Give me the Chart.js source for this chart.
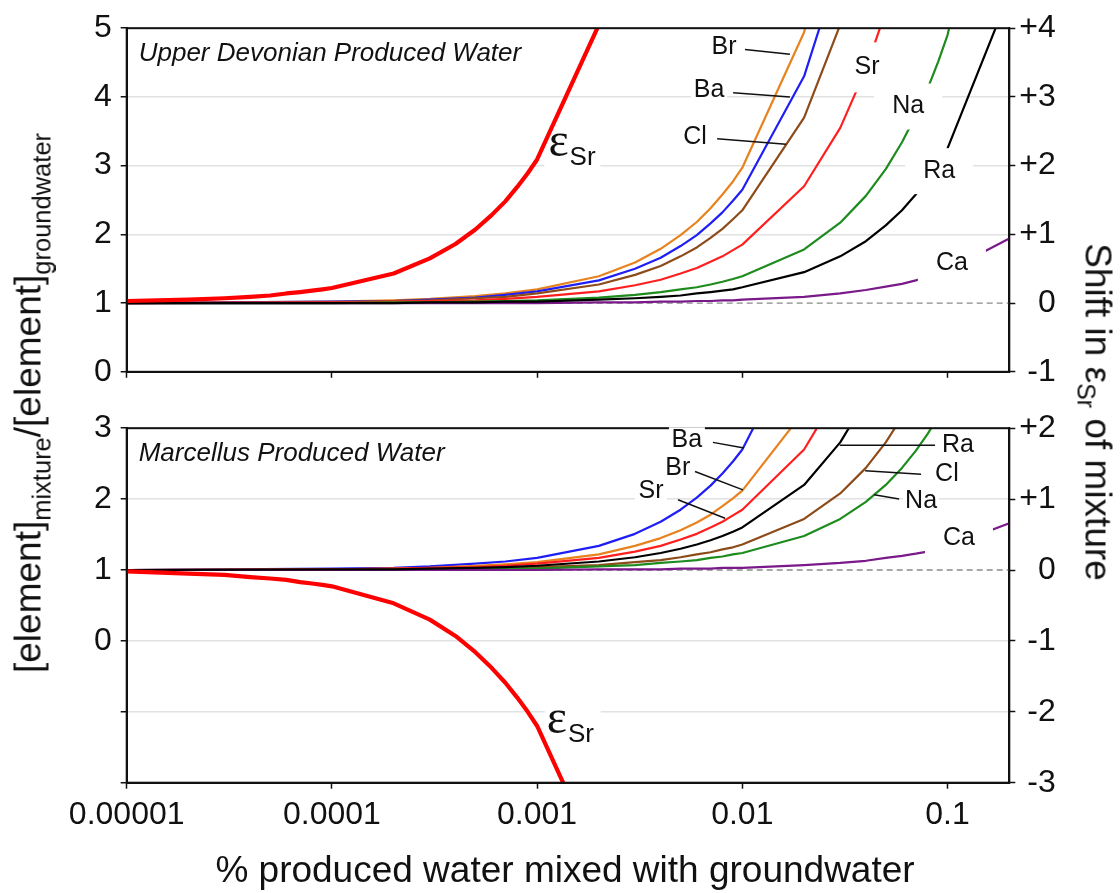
<!DOCTYPE html>
<html>
<head>
<meta charset="utf-8">
<script src="https://cdn.jsdelivr.net/npm/chart.js@4.4.0/dist/chart.umd.min.js"></script>
<style>
  body { margin:0; background:#fff; }
  #wrap { position:relative; width:1120px; height:893px; overflow:hidden; font-family:"Liberation Sans", Arial, sans-serif; color:#111; }
  .pane { position:absolute; left:0; }
  .ttl { position:absolute; white-space:nowrap; font-size:37px; line-height:1; transform-origin:50% 50%; }
  .ttl sub { font-size:25.5px; line-height:0; vertical-align:-10px; }
  #yTitle { left:28px; top:403px; transform:translate(-50%,-50%) rotate(-90deg); }
  #y2Title { left:1098px; top:412px; transform:translate(-50%,-50%) rotate(90deg); }
  #y2Title sub { font-size:25px; vertical-align:-8px; }
  #xTitle { left:565px; top:869px; transform:translate(-50%,-50%); }
</style>
</head>
<body>
<div id="wrap">
  <canvas id="cTop" class="pane" width="1120" height="400" style="top:0"></canvas>
  <canvas id="cBot" class="pane" width="1120" height="493" style="top:400px"></canvas>
  <div class="ttl" id="yTitle">[element]<sub>mixture</sub>/[element]<sub>groundwater</sub></div>
  <div class="ttl" id="y2Title">Shift in ε<sub>Sr</sub> of mixture</div>
  <div class="ttl" id="xTitle">% produced water mixed with groundwater</div>
</div>
<script>
// % produced water in the mixture (x positions)
const pctEl = [0.00001, 0.0001, 0.0002, 0.0003, 0.0005, 0.0007, 0.001, 0.002, 0.003, 0.004, 0.005, 0.006, 0.007, 0.008, 0.009,
               0.01, 0.02, 0.03, 0.04, 0.05, 0.06, 0.07, 0.08, 0.09, 0.1, 0.2];
const pctSr = [0.00001, 0.00002, 0.00003, 0.00004, 0.00005, 0.00006, 0.00007, 0.00008, 0.00009,
               0.0001, 0.0002, 0.0003, 0.0004, 0.0005, 0.0006, 0.0007, 0.0008, 0.0009, 0.001, 0.002, 0.003];
const xTicks = [0.00001, 0.0001, 0.001, 0.01, 0.1];

// Upper Devonian produced water: [element]mixture / [element]groundwater
const udBr = [1.00, 1.02, 1.04, 1.06, 1.10, 1.14, 1.20, 1.39, 1.59, 1.79, 1.99, 2.18, 2.38, 2.58, 2.77, 2.97, 4.94, 6.91];
const udBa = [1.00, 1.02, 1.03, 1.05, 1.08, 1.12, 1.17, 1.33, 1.50, 1.66, 1.83, 1.99, 2.16, 2.32, 2.49, 2.65, 4.30, 5.95];
const udCl = [1.00, 1.01, 1.03, 1.04, 1.07, 1.09, 1.14, 1.27, 1.41, 1.54, 1.68, 1.81, 1.95, 2.08, 2.22, 2.35, 3.70, 5.05, 6.40];
const udSr = [1.00, 1.01, 1.02, 1.03, 1.04, 1.06, 1.09, 1.17, 1.26, 1.34, 1.43, 1.51, 1.60, 1.68, 1.77, 1.85, 2.70, 3.55, 4.40, 5.25];
const udNa = [1.00, 1.00, 1.01, 1.01, 1.02, 1.03, 1.04, 1.08, 1.12, 1.16, 1.20, 1.23, 1.27, 1.31, 1.35, 1.39, 1.78, 2.17, 2.56, 2.95, 3.34, 3.73, 4.12, 4.51, 4.90, 8.80];
const udRa = [1.00, 1.00, 1.00, 1.01, 1.01, 1.02, 1.02, 1.05, 1.07, 1.09, 1.11, 1.14, 1.16, 1.18, 1.20, 1.23, 1.45, 1.68, 1.90, 2.13, 2.35, 2.58, 2.80, 3.03, 3.25, 5.50];
const udCa = [1.00, 1.00, 1.00, 1.00, 1.00, 1.00, 1.00, 1.01, 1.01, 1.02, 1.02, 1.03, 1.03, 1.04, 1.04, 1.05, 1.09, 1.14, 1.19, 1.24, 1.28, 1.33, 1.38, 1.42, 1.47, 1.94];
const udEpsSr = [0.03, 0.05, 0.07, 0.09, 0.11, 0.14, 0.16, 0.18, 0.20, 0.22, 0.43, 0.65, 0.86, 1.07, 1.28, 1.48, 1.69, 1.89, 2.09, 4.05, 5.60];

// Marcellus produced water
const mcBa = [1.00, 1.02, 1.03, 1.05, 1.09, 1.12, 1.17, 1.34, 1.51, 1.68, 1.85, 2.02, 2.19, 2.36, 2.53, 2.70, 4.40];
const mcBr = [1.00, 1.01, 1.02, 1.03, 1.06, 1.08, 1.11, 1.22, 1.34, 1.45, 1.56, 1.67, 1.78, 1.90, 2.01, 2.12, 3.24];
const mcSr = [1.00, 1.01, 1.02, 1.03, 1.04, 1.06, 1.09, 1.17, 1.26, 1.34, 1.43, 1.51, 1.60, 1.68, 1.77, 1.85, 2.70, 3.55];
const mcRa = [1.00, 1.01, 1.01, 1.02, 1.03, 1.04, 1.06, 1.12, 1.18, 1.24, 1.30, 1.36, 1.42, 1.48, 1.54, 1.60, 2.20, 2.80, 3.40];
const mcCl = [1.00, 1.00, 1.01, 1.01, 1.02, 1.03, 1.04, 1.07, 1.11, 1.14, 1.18, 1.22, 1.25, 1.29, 1.32, 1.36, 1.72, 2.08, 2.44, 2.80, 3.16];
const mcNa = [1.00, 1.00, 1.00, 1.01, 1.01, 1.02, 1.02, 1.05, 1.07, 1.10, 1.12, 1.14, 1.17, 1.19, 1.22, 1.24, 1.48, 1.72, 1.96, 2.20, 2.44, 2.68, 2.92, 3.16];
const mcCa = [1.00, 1.00, 1.00, 1.00, 1.00, 1.00, 1.00, 1.01, 1.01, 1.01, 1.02, 1.02, 1.02, 1.03, 1.03, 1.03, 1.07, 1.10, 1.13, 1.17, 1.20, 1.23, 1.26, 1.30, 1.33, 1.66];
const mcEpsSr = [-0.02, -0.05, -0.07, -0.10, -0.12, -0.14, -0.17, -0.19, -0.21, -0.23, -0.47, -0.70, -0.93, -1.16, -1.38, -1.59, -1.80, -2.00, -2.20, -4.10, -5.70];

const FONT = '"Liberation Sans", Arial, sans-serif';
const INK = '#111';
const colors = { Br:'#E8821E', Ba:'#1F1FF5', Cl:'#8E4B1A', Sr:'#FF1F1F', Na:'#1E8B1E', Ra:'#000000', Ca:'#7A1A8A', eps:'#FF0000' };

const pts = (xs, ys) => ys.map((y, i) => ({ x: xs[i], y }));
const el = (name, values) => ({ label: name, data: pts(pctEl, values), borderColor: colors[name], borderWidth: 2.2, yAxisID: 'y', clip: 0 });
const eps = values => ({ label: 'εSr', data: pts(pctSr, values), borderColor: colors.eps, borderWidth: 4.2, yAxisID: 'yR', clip: 0 });

// dashed reference line, frame, panel title, curve labels and leader lines
const panelNotes = {
  id: 'panelNotes',
  beforeDatasetsDraw(chart) {
    const { ctx, chartArea: a, scales: { y } } = chart;
    const yy = y.getPixelForValue(1);
    ctx.save();
    ctx.strokeStyle = '#8a8a8a'; ctx.lineWidth = 1.3; ctx.setLineDash([6, 4]);
    ctx.beginPath(); ctx.moveTo(a.left, yy); ctx.lineTo(a.right, yy); ctx.stroke();
    ctx.restore();
  },
  afterDatasetsDraw(chart, args, opts) {
    const { ctx, chartArea: a, scales: { x, y } } = chart;
    ctx.save();
    ctx.strokeStyle = INK; ctx.lineWidth = 2;
    ctx.strokeRect(a.left, a.top, a.right - a.left, a.bottom - a.top);

    ctx.fillStyle = INK; ctx.font = 'italic 26px ' + FONT;
    ctx.textAlign = 'left'; ctx.textBaseline = 'alphabetic';
    ctx.fillText(opts.title, a.left + 12, a.top + 32.5);

    ctx.font = '25px ' + FONT; ctx.textAlign = 'center'; ctx.textBaseline = 'middle';
    opts.labels.forEach(l => {
      const px = x.getPixelForValue(l.x), py = y.getPixelForValue(l.y);
      ctx.fillStyle = '#fff';
      ctx.fillRect(px - l.box[0] / 2, py - l.box[1] / 2, l.box[0], l.box[1]);
      ctx.fillStyle = INK;
      ctx.fillText(l.text, px, py);
    });

    ctx.strokeStyle = INK; ctx.lineWidth = 1.5;
    opts.leaders.forEach(([x1, y1, x2, y2]) => {
      ctx.beginPath();
      ctx.moveTo(x.getPixelForValue(x1), y.getPixelForValue(y1));
      ctx.lineTo(x.getPixelForValue(x2), y.getPixelForValue(y2));
      ctx.stroke();
    });

    const e = opts.eps;
    const ex = x.getPixelForValue(e.x), ey = y.getPixelForValue(e.y);
    ctx.fillStyle = '#fff';
    ctx.fillRect(ex + e.box[0], ey + e.box[1], e.box[2] - e.box[0], e.box[3] - e.box[1]);
    ctx.fillStyle = INK; ctx.textAlign = 'left'; ctx.textBaseline = 'alphabetic';
    ctx.font = '48px "Liberation Serif", serif';
    ctx.fillText('ε', ex, ey);
    const w = ctx.measureText('ε').width;
    ctx.font = '26px ' + FONT;
    ctx.fillText('Sr', ex + w + 1, ey + 9.5);
    ctx.restore();
  }
};

function scalesFor(leftMin, rightMin, showX) {
  const tickFont = { family: FONT, size: 32 };
  return {
    x: {
      type: 'logarithmic', min: 0.00001, max: 0.2,
      afterBuildTicks: s => { s.ticks = xTicks.map(v => ({ value: v })); },
      afterFit: s => { s.height = showX ? 110.3 : 17.3; },
      grid: { drawOnChartArea: false, tickLength: 6, tickColor: INK, tickWidth: 1.5 },
      border: { color: INK, width: 2 },
      ticks: { autoSkip: false, maxRotation: 0, padding: 7, color: INK, font: tickFont,
               callback: v => showX ? v.toFixed(Math.round(-Math.log10(v))) : '' }
    },
    y: {
      position: 'left', min: leftMin, max: leftMin + 5,
      afterFit: s => { s.width = 126.7; },
      grid: { color: c => c.tick.value === 1 ? 'rgba(0,0,0,0)' : '#e2e2e2', lineWidth: 1.5,
              tickLength: 6, tickColor: INK, tickWidth: 1.5 },
      border: { color: INK, width: 2 },
      ticks: { stepSize: 1, padding: 9, color: INK, font: tickFont, callback: v => v >= 0 ? String(v) : '' }
    },
    yR: {
      position: 'right', min: rightMin, max: rightMin + 5,
      // labels right-aligned on the far edge of this box
      afterFit: s => { s.width = 46.5; },
      grid: { drawOnChartArea: false, tickLength: 6, tickColor: INK, tickWidth: 1.5 },
      border: { color: INK, width: 2 },
      ticks: { stepSize: 1, padding: 3, crossAlign: 'far', color: INK, font: tickFont,
               callback: v => v > 0 ? '+' + v : String(v) }
    }
  };
}

function makePanel(id, datasets, leftMin, rightMin, showX, notes) {
  return new Chart(document.getElementById(id), {
    type: 'line',
    data: { datasets },
    options: {
      responsive: false, animation: false,
      layout: { padding: { top: 20.7, left: 0, right: 64.2, bottom: 0 } },
      elements: { point: { radius: 0 }, line: { tension: 0, borderJoinStyle: 'round' } },
      plugins: { legend: { display: false }, tooltip: { enabled: false }, panelNotes: notes },
      scales: scalesFor(leftMin, rightMin, showX)
    },
    plugins: [panelNotes]
  });
}

makePanel('cTop', [
  eps(udEpsSr), el('Ra', udRa), el('Ca', udCa), el('Na', udNa), el('Sr', udSr), el('Cl', udCl), el('Ba', udBa), el('Br', udBr)
], 0, -1, false, {
  title: 'Upper Devonian Produced Water',
  labels: [
    { text: 'Br', x: 0.00815, y: 4.72, box: [34, 26] },
    { text: 'Ba', x: 0.00689, y: 4.10, box: [36, 26] },
    { text: 'Cl', x: 0.00588, y: 3.41, box: [30, 26] },
    { text: 'Sr', x: 0.0405, y: 4.43, box: [34, 50] },
    { text: 'Na', x: 0.0643, y: 3.86, box: [68, 46] },
    { text: 'Ra', x: 0.0910, y: 2.92, box: [68, 46] },
    { text: 'Ca', x: 0.105, y: 1.58, box: [68, 40] }
  ],
  leaders: [[0.0103, 4.69, 0.01706, 4.62], [0.00902, 4.06, 0.01706, 4.00], [0.00754, 3.39, 0.01633, 3.31]],
  eps: { x: 0.001135, y: 3.145, box: [-4, -4, 52, 13] }
});

makePanel('cBot', [
  eps(mcEpsSr), el('Ra', mcRa), el('Ca', mcCa), el('Na', mcNa), el('Cl', mcCl), el('Sr', mcSr), el('Br', mcBr), el('Ba', mcBa)
], -2, -3, true, {
  title: 'Marcellus Produced Water',
  labels: [
    { text: 'Ba', x: 0.00537, y: 2.83, box: [36, 26] },
    { text: 'Br', x: 0.00485, y: 2.44, box: [32, 26] },
    { text: 'Sr', x: 0.00359, y: 2.11, box: [32, 26] },
    { text: 'Ra', x: 0.1125, y: 2.76, box: [38, 26] },
    { text: 'Cl', x: 0.0993, y: 2.35, box: [30, 26] },
    { text: 'Na', x: 0.0743, y: 1.97, box: [36, 26] },
    { text: 'Ca', x: 0.1137, y: 1.45, box: [68, 40] }
  ],
  leaders: [[0.00719, 2.80, 0.01019, 2.72], [0.00588, 2.39, 0.01007, 2.13], [0.00486, 1.99, 0.00824, 1.73],
            [0.02985, 2.76, 0.0869, 2.76], [0.0397, 2.40, 0.0743, 2.35], [0.0439, 2.06, 0.0581, 2.00]],
  eps: { x: 0.001114, y: -1.296, box: [-2, -28, 54, 2] }
});
</script>
</body>
</html>
